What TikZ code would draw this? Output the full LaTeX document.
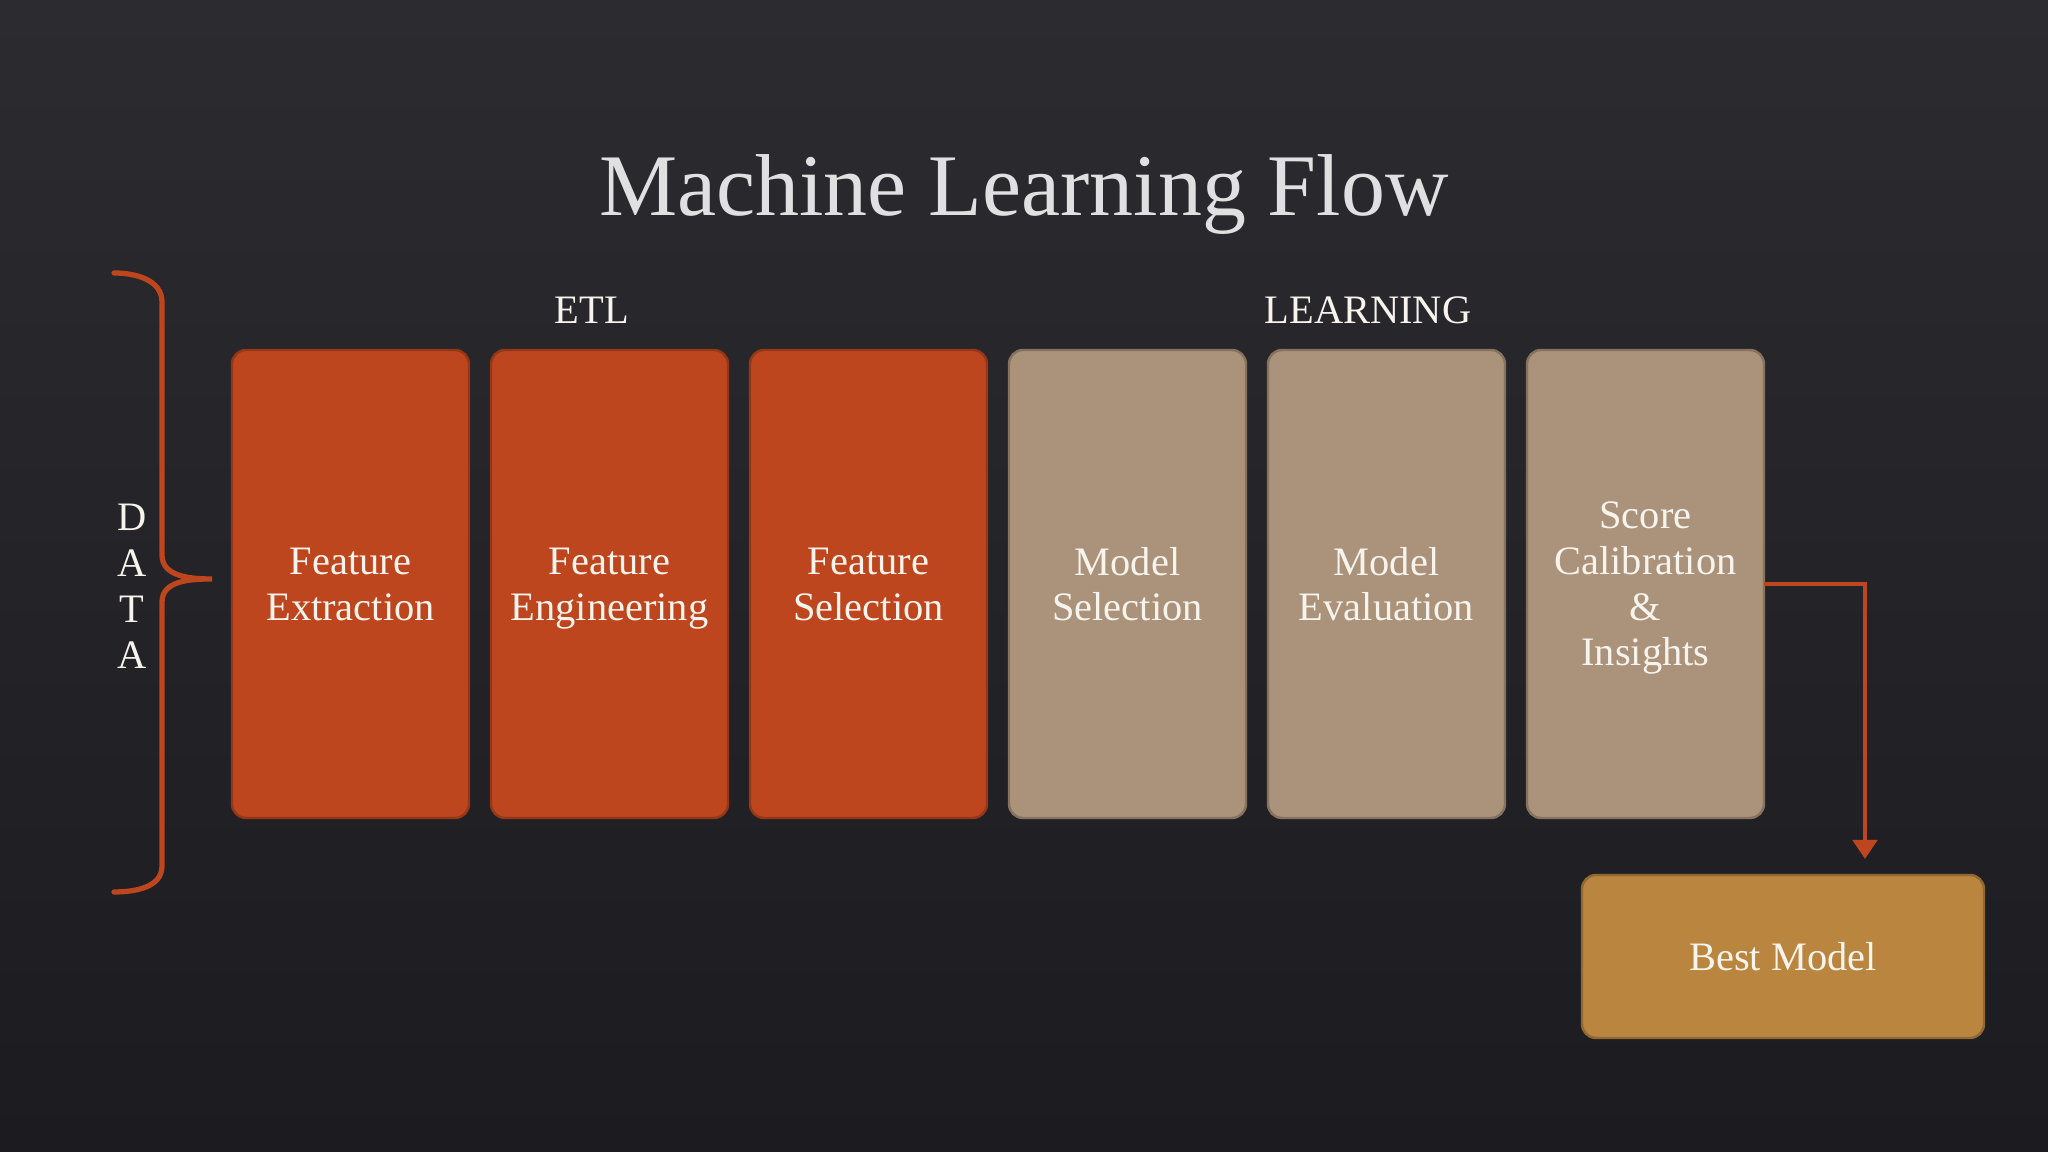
\documentclass[tikz,border=0pt]{standalone}
\usepackage{fontspec}
\setmainfont{Liberation Serif}
\usetikzlibrary{arrows.meta,positioning}
\definecolor{figBgT}{RGB}{44,43,47}
\definecolor{figBgB}{RGB}{28,27,31}
\definecolor{figO}{RGB}{190,70,30}
\definecolor{figT}{RGB}{171,146,122}
\definecolor{figY}{RGB}{185,133,63}
\definecolor{figW}{RGB}{247,243,237}
\definecolor{figTitle}{RGB}{224,224,224}

\begin{document}
\begin{tikzpicture}[>={Triangle[length=1.9mm,width=2.4mm]},
  stage/.style={draw=#1!78!black,fill=#1,line width=0.7pt,rounded corners=4pt,minimum width=2.37cm,minimum height=4.68cm,
    inner sep=0pt,outer sep=0pt,text=figW,align=center,font=\fontsize{11.5}{13}\selectfont,text depth=0pt},
  tag/.style={text=figW,font=\fontsize{11.5}{13}\selectfont,inner sep=0pt}]
\shade[top color=figBgT,bottom color=figBgB] (0,0) rectangle (20.48,11.52);
\node[text=figTitle,font=\fontsize{25}{30}\selectfont] (title) at (10.24,9.57) {Machine Learning Flow};
% ETL stages
\node[stage=figO] (fext) at (3.505,5.68) {Feature\\Extraction};
\node[stage=figO,right=0.22cm of fext] (feng) {Feature\\Engineering};
\node[stage=figO,right=0.22cm of feng] (fsel) {Feature\\Selection};
% learning stages
\node[stage=figT,right=0.22cm of fsel] (msel) {Model\\Selection};
\node[stage=figT,right=0.22cm of msel] (meval) {Model\\Evaluation};
\node[stage=figT,right=0.22cm of meval] (score) {Score\\Calibration\\\&\\Insights};
\node[tag] (etl) at (5.92,8.42) {ETL};
\node[tag] (learn) at (13.68,8.42) {LEARNING};
\node[stage=figY,minimum width=4.02cm,minimum height=1.63cm] (best) at (17.83,1.955) {Best Model};
\coordinate (drop) at ([xshift=0.82cm]best.north);
\draw[->,figO,line width=1.4pt,shorten >=0.16cm] (score.east) -| (drop);
% data brace
\draw[figO,line width=1.5pt,line cap=round] (1.14,8.79) to[out=0,in=90] (1.62,8.50) -- (1.62,5.97)
  to[out=-90,in=180] (2.12,5.73) to[out=180,in=90] (1.62,5.50) -- (1.62,2.86) to[out=-90,in=0] (1.14,2.60);
\node[tag,align=center,font=\fontsize{11.5}{13.1}\selectfont] (data) at (1.32,5.66) {D\\A\\T\\A};
\end{tikzpicture}
\end{document}
